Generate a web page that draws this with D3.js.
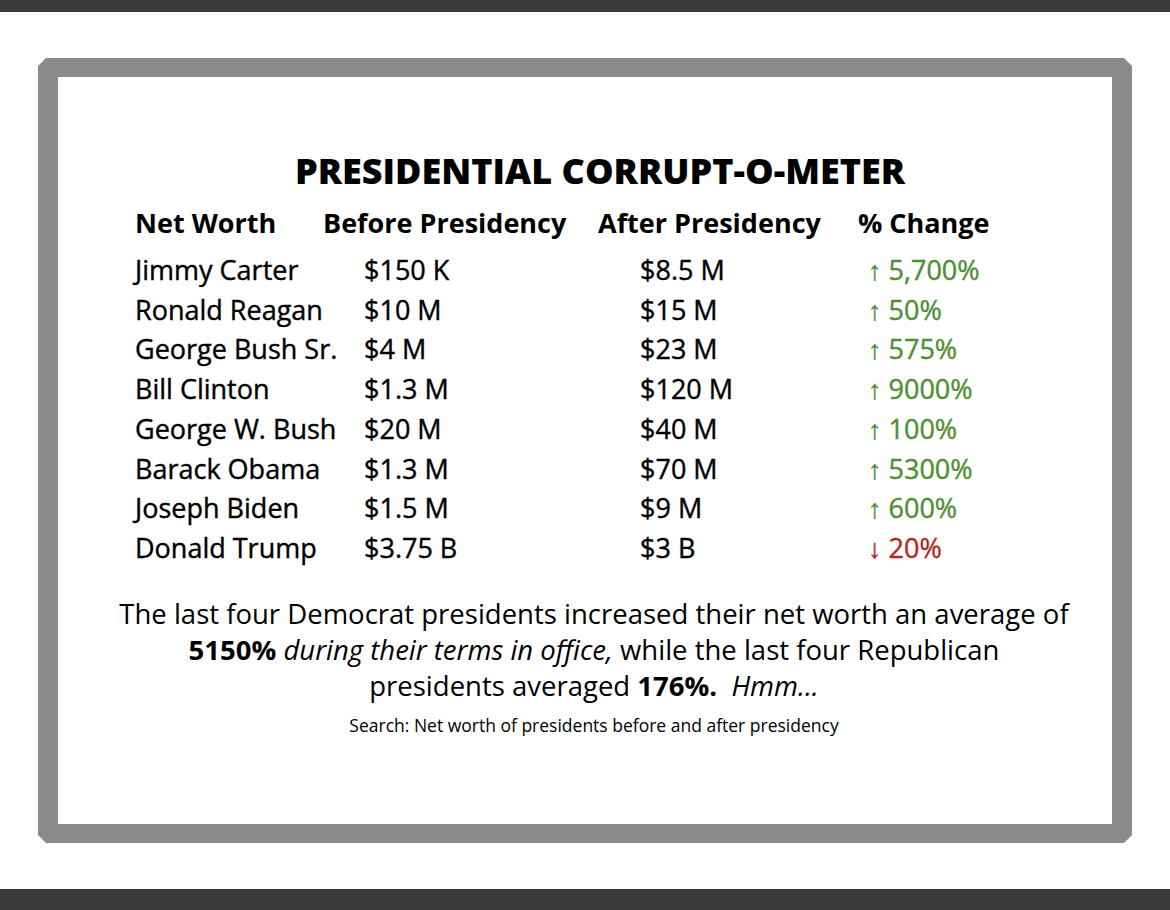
<!DOCTYPE html>
<html><head><meta charset="utf-8">
<script src="https://cdn.jsdelivr.net/npm/d3@7"></script>
<style>body{margin:0;background:#fff}svg{display:block}text{font-family:"Open Sans","Noto Sans",sans-serif}</style>
</head><body><svg id="chart" width="1170" height="910"></svg>
<script>
const headers = ["Net Worth", "Before Presidency", "After Presidency", "% Change"];
const names = ["Jimmy Carter", "Ronald Reagan", "George Bush Sr.", "Bill Clinton", "George W. Bush", "Barack Obama", "Joseph Biden", "Donald Trump"];
const before = ["$150 K", "$10 M", "$4 M", "$1.3 M", "$20 M", "$1.3 M", "$1.5 M", "$3.75 B"];
const after = ["$8.5 M", "$15 M", "$23 M", "$120 M", "$40 M", "$70 M", "$9 M", "$3 B"];
const change = ["5,700%", "50%", "575%", "9000%", "100%", "5300%", "600%", "20%"];
const up = [true, true, true, true, true, true, true, false];

const svg = d3.select("#chart");
svg.append("rect").attr("width", 1170).attr("height", 12).attr("fill", "#3b3b3b");
svg.append("rect").attr("y", 889).attr("width", 1170).attr("height", 21).attr("fill", "#3b3b3b");
svg.append("path").attr("d", "M46,58 H1124 L1132,66 V835 L1124,843 H46 L38,835 V66 Z").attr("fill", "#8a8a8a");
svg.append("rect").attr("x", 58).attr("y", 77).attr("width", 1054).attr("height", 747).attr("fill", "#fff");

svg.append("text").attr("x", 600).attr("y", 184).attr("text-anchor", "middle")
  .attr("font-size", 36).attr("font-weight", 800).text("PRESIDENTIAL CORRUPT-O-METER");

const hx = [135, 323, 598, 858];
headers.forEach((h, i) => svg.append("text").attr("x", hx[i]).attr("y", 233)
  .attr("font-size", 27).attr("font-weight", 700).text(h));

const y = d3.scalePoint().domain(d3.range(names.length)).range([280, 558]);
const g = svg.append("g").attr("font-size", 27).attr("stroke", "#000").attr("stroke-width", 0.4);
const rows = g.selectAll("g").data(names).join("g").attr("transform", (d, i) => `translate(0,${y(i)})`);
rows.append("text").attr("x", 135).text(d => d);
rows.append("text").attr("x", 364).text((d, i) => before[i]);
rows.append("text").attr("x", 640).text((d, i) => after[i]);
rows.append("text").attr("x", 868)
  .attr("fill", (d, i) => up[i] ? "#4e8f34" : "#b3271c")
  .attr("stroke", (d, i) => up[i] ? "#4e8f34" : "#b3271c")
  .text((d, i) => (up[i] ? "↑ " : "↓ ") + change[i]);

const foot = svg.append("g").attr("font-size", 27.5).attr("text-anchor", "middle");
foot.append("text").attr("x", 594).attr("y", 624).text("The last four Democrat presidents increased their net worth an average of");
const l2 = foot.append("text").attr("x", 594).attr("y", 660);
l2.append("tspan").attr("font-weight", 700).text("5150% ");
l2.append("tspan").attr("font-style", "italic").text("during their terms in office,");
l2.append("tspan").text(" while the last four Republican");
const l3 = foot.append("text").attr("x", 594).attr("y", 696);
l3.append("tspan").text("presidents averaged ");
l3.append("tspan").attr("font-weight", 700).text("176%.");
l3.append("tspan").attr("font-style", "italic").text("\u00a0 Hmm...");
svg.append("text").attr("x", 594).attr("y", 732).attr("text-anchor", "middle").attr("font-size", 17.5)
  .text("Search: Net worth of presidents before and after presidency");
</script></body></html>
